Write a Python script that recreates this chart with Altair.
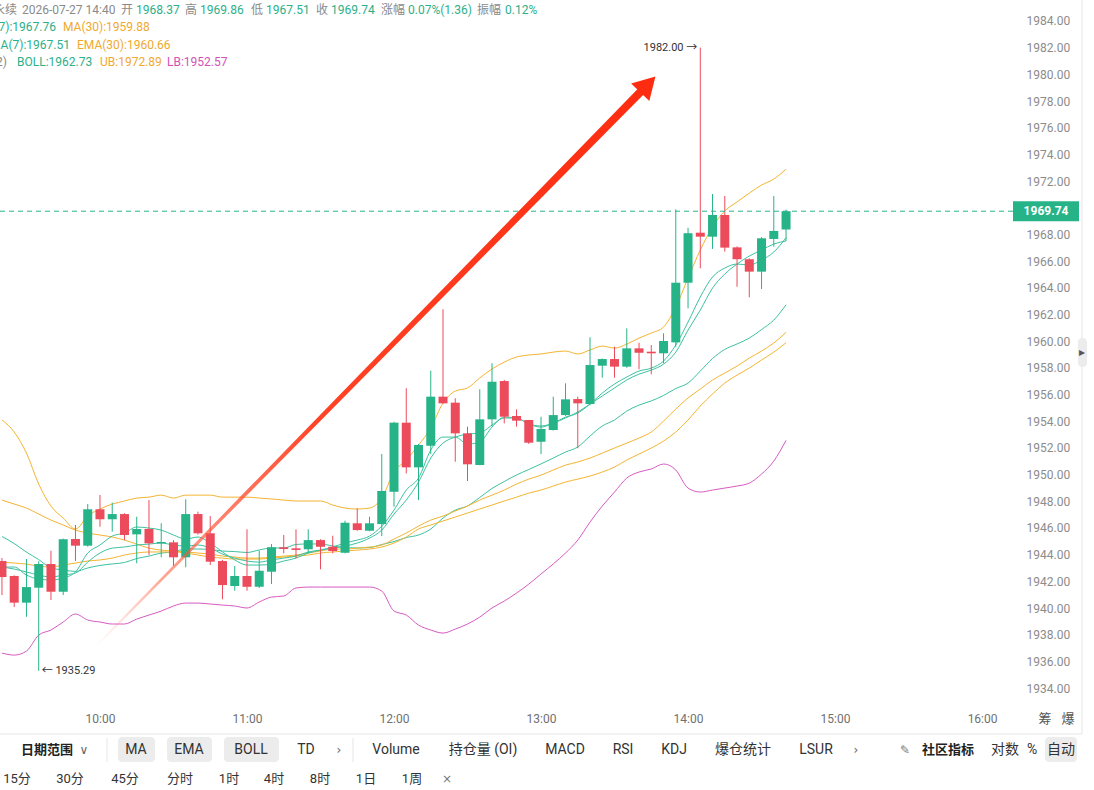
import altair as alt
import pandas as pd

FONT = "Roboto, Noto Sans CJK SC, sans-serif"
CJK = "Noto Sans CJK SC, Roboto, sans-serif"

GREEN = "#27b388"
RED = "#ec4b5c"
TEAL_LINE = "#3cc2a0"
ORANGE_LINE = "#f4b431"
PINK_LINE = "#d85ac2"
TXT_GRAY = "#8a8a8a"
VAL_TEAL = "#2bb089"
VAL_ORANGE = "#f0a92e"
VAL_PINK = "#d452b8"
ARROW_RED = "#fe2c10"

# ---- 5-minute candles, 09:20 to 14:40 (x is minutes after midnight)
opens = [1943.52, 1942.40, 1940.40, 1941.52, 1943.30, 1941.22, 1945.17, 1944.67, 1947.40, 1946.65,
         1947.04, 1945.52, 1945.92, 1944.85, 1944.92, 1943.80, 1947.04, 1945.60, 1943.52, 1941.65,
         1942.40, 1941.59, 1942.72, 1944.55, 1944.47, 1944.40, 1945.09, 1944.59, 1944.14, 1946.35,
         1945.79, 1946.29, 1948.71, 1953.89, 1950.54, 1952.16, 1955.84, 1955.39, 1953.09, 1950.72,
         1954.14, 1957.01, 1954.39, 1954.09, 1952.46, 1953.34, 1954.46, 1955.66, 1955.29, 1958.16,
         1958.66, 1958.09, 1959.46, 1959.21, 1959.09, 1959.91, 1964.38, 1968.13, 1967.83, 1969.46,
         1967.03, 1966.14, 1965.21, 1967.66, 1968.37]
highs = [1943.74, 1942.45, 1943.67, 1943.50, 1944.29, 1945.20, 1946.22, 1947.79, 1948.47, 1947.89,
         1947.10, 1946.84, 1948.09, 1946.35, 1945.09, 1948.15, 1947.22, 1946.89, 1943.60, 1943.15,
         1945.90, 1944.29, 1944.79, 1945.47, 1945.90, 1945.90, 1945.15, 1945.42, 1946.54, 1947.47,
         1946.84, 1951.54, 1953.96, 1956.47, 1952.30, 1957.79, 1962.39, 1955.72, 1953.59, 1956.39,
         1958.34, 1957.10, 1954.89, 1954.10, 1954.34, 1955.84, 1956.84, 1955.84, 1960.29, 1958.70,
         1959.58, 1960.96, 1959.88, 1959.71, 1960.59, 1969.88, 1968.50, 1982.00, 1971.03, 1970.88,
         1967.10, 1966.20, 1967.80, 1970.88, 1969.86]
lows = [1940.97, 1940.07, 1939.34, 1935.29, 1940.60, 1940.97, 1943.52, 1944.60, 1946.09, 1945.72,
        1945.09, 1943.35, 1943.97, 1943.80, 1943.15, 1943.05, 1945.50, 1943.22, 1940.65, 1941.29,
        1941.29, 1941.50, 1941.80, 1944.10, 1943.72, 1944.10, 1942.90, 1944.10, 1944.10, 1945.80,
        1945.75, 1945.39, 1947.59, 1950.09, 1948.09, 1951.54, 1955.30, 1950.96, 1949.52, 1950.70,
        1953.64, 1953.84, 1953.59, 1952.30, 1951.54, 1953.30, 1954.40, 1951.97, 1955.20, 1957.26,
        1957.26, 1958.00, 1957.89, 1957.52, 1958.34, 1959.58, 1962.46, 1965.46, 1966.91, 1966.71,
        1964.08, 1963.29, 1963.91, 1967.08, 1967.51]
closes = [1942.32, 1940.40, 1941.57, 1943.30, 1941.22, 1945.15, 1944.67, 1947.40, 1946.65, 1947.04,
          1945.47, 1945.92, 1944.85, 1944.95, 1943.80, 1947.04, 1945.60, 1943.47, 1941.72, 1942.40,
          1941.59, 1942.79, 1944.55, 1944.42, 1944.35, 1945.09, 1944.59, 1944.27, 1946.39, 1945.84,
          1946.35, 1948.77, 1953.89, 1950.54, 1952.22, 1955.84, 1955.34, 1953.09, 1950.77, 1954.14,
          1956.96, 1954.34, 1954.04, 1952.39, 1953.42, 1954.46, 1955.64, 1955.34, 1958.21, 1958.66,
          1958.09, 1959.46, 1959.13, 1959.09, 1960.01, 1964.38, 1968.09, 1967.83, 1969.46, 1967.01,
          1966.14, 1965.21, 1967.71, 1968.26, 1969.74]

# ---- indicator overlays, one value per candle
ma7 = [1943.07, 1943.07, 1942.47, 1942.17, 1942.10, 1942.25, 1942.70, 1944.12, 1944.72, 1945.39,
       1945.62, 1946.07, 1945.99, 1945.84, 1945.47, 1945.17, 1945.32, 1944.87, 1944.20, 1943.60,
       1943.22, 1943.22, 1943.29, 1943.52, 1943.74, 1944.12, 1944.34, 1944.57, 1944.87, 1945.09,
       1945.39, 1946.14, 1947.34, 1948.84, 1949.74, 1951.84, 1952.81, 1952.81, 1952.29, 1952.44,
       1953.56, 1954.31, 1954.24, 1953.79, 1953.56, 1953.86, 1954.31, 1954.61, 1955.29, 1956.11,
       1956.79, 1957.31, 1957.76, 1957.98, 1958.51, 1959.71, 1961.43, 1963.31, 1964.81, 1965.48,
       1965.78, 1965.71, 1966.08, 1966.68, 1967.76]
ema7 = [1943.07, 1942.92, 1942.70, 1942.47, 1942.32, 1942.47, 1942.62, 1943.44, 1944.12, 1944.49,
        1944.57, 1944.72, 1944.79, 1944.87, 1944.72, 1944.64, 1944.72, 1944.49, 1944.04, 1943.74,
        1943.52, 1943.44, 1943.60, 1943.74, 1943.89, 1944.20, 1944.34, 1944.49, 1944.64, 1944.87,
        1945.24, 1945.84, 1947.04, 1948.09, 1949.44, 1951.24, 1952.36, 1952.81, 1953.04, 1953.11,
        1953.71, 1954.24, 1954.24, 1953.79, 1953.64, 1953.86, 1954.24, 1954.69, 1955.29, 1955.89,
        1956.49, 1957.09, 1957.53, 1957.83, 1958.28, 1959.18, 1960.83, 1962.33, 1963.98, 1965.03,
        1965.78, 1966.38, 1966.83, 1967.28, 1967.51]
ma30 = [1943.44, 1943.37, 1943.29, 1943.14, 1943.07, 1943.22, 1943.37, 1943.52, 1943.60, 1943.74,
        1943.97, 1944.12, 1944.20, 1944.20, 1944.20, 1944.12, 1943.97, 1943.82, 1943.74, 1943.67,
        1943.67, 1943.67, 1943.74, 1943.82, 1943.89, 1943.97, 1944.12, 1944.20, 1944.27, 1944.34,
        1944.42, 1944.57, 1944.87, 1945.32, 1945.92, 1946.22, 1946.52, 1946.82, 1947.12, 1947.42,
        1947.72, 1948.02, 1948.31, 1948.61, 1948.84, 1949.14, 1949.44, 1949.66, 1949.89, 1950.19,
        1950.56, 1951.09, 1951.54, 1951.99, 1952.51, 1953.19, 1954.09, 1955.14, 1956.04, 1956.86,
        1957.46, 1957.98, 1958.59, 1959.18, 1959.88]
ema30 = [1948.09, 1947.79, 1947.49, 1947.04, 1946.59, 1946.22, 1945.84, 1945.62, 1945.47, 1945.32,
         1945.09, 1944.79, 1944.49, 1944.34, 1944.27, 1944.20, 1944.12, 1944.04, 1943.89, 1943.82,
         1943.74, 1943.74, 1943.82, 1943.89, 1943.97, 1944.12, 1944.27, 1944.42, 1944.42, 1944.49,
         1944.57, 1944.72, 1945.17, 1945.62, 1946.14, 1946.59, 1946.89, 1947.27, 1947.64, 1948.09,
         1948.46, 1948.84, 1949.29, 1949.66, 1949.96, 1950.34, 1950.71, 1950.94, 1951.24, 1951.61,
         1951.99, 1952.36, 1952.74, 1953.19, 1954.01, 1954.91, 1955.74, 1956.41, 1957.09, 1957.61,
         1958.13, 1958.73, 1959.26, 1959.86, 1960.66]
boll_mid = [1945.36, 1944.83, 1944.19, 1943.63, 1943.00, 1942.85, 1942.74, 1943.00, 1943.19, 1943.30,
            1943.41, 1943.71, 1943.89, 1944.12, 1944.20, 1944.42, 1944.42, 1944.38, 1944.27, 1944.23,
            1944.16, 1944.35, 1944.50, 1944.50, 1944.76, 1944.80, 1944.80, 1944.65, 1944.53, 1944.50,
            1944.53, 1944.76, 1944.98, 1945.28, 1945.47, 1945.92, 1946.74, 1947.34, 1947.65, 1948.28,
            1948.96, 1949.48, 1949.97, 1950.38, 1950.80, 1951.24, 1951.69, 1952.07, 1952.89, 1953.64,
            1954.09, 1954.76, 1955.21, 1955.52, 1955.93, 1956.45, 1956.86, 1957.76, 1958.70, 1959.38,
            1959.79, 1960.23, 1960.87, 1961.58, 1962.73]
boll_ub = [1954.09, 1953.19, 1951.61, 1949.29, 1947.64, 1946.74, 1945.92, 1946.89, 1947.42, 1947.79,
           1948.02, 1948.24, 1948.31, 1948.46, 1948.24, 1948.46, 1948.46, 1948.46, 1948.31, 1948.31,
           1948.31, 1948.24, 1948.17, 1948.09, 1948.02, 1948.02, 1948.02, 1947.72, 1947.49, 1947.42,
           1947.49, 1948.24, 1950.19, 1951.09, 1952.21, 1953.49, 1955.36, 1956.26, 1956.49, 1957.24,
           1957.91, 1958.43, 1958.81, 1958.96, 1959.04, 1959.18, 1959.26, 1959.04, 1959.34, 1959.63,
           1959.48, 1959.78, 1960.23, 1960.61, 1961.06, 1962.56, 1964.73, 1966.83, 1968.56, 1969.76,
           1970.43, 1971.10, 1971.70, 1972.15, 1972.89]
boll_lb = [1936.62, 1936.47, 1936.77, 1937.97, 1938.35, 1938.95, 1939.55, 1939.10, 1938.95, 1938.80,
           1938.80, 1939.17, 1939.47, 1939.77, 1940.15, 1940.37, 1940.37, 1940.30, 1940.22, 1940.15,
           1940.00, 1940.45, 1940.82, 1940.90, 1941.50, 1941.57, 1941.57, 1941.57, 1941.57, 1941.57,
           1941.57, 1941.27, 1939.77, 1939.47, 1938.72, 1938.35, 1938.12, 1938.42, 1938.80, 1939.32,
           1940.00, 1940.52, 1941.12, 1941.79, 1942.55, 1943.30, 1944.12, 1945.09, 1946.44, 1947.64,
           1948.69, 1949.74, 1950.19, 1950.42, 1950.79, 1950.34, 1948.99, 1948.69, 1948.84, 1948.99,
           1949.14, 1949.36, 1950.04, 1951.01, 1952.57]

# ---- axis ticks
price_ticks = [1934, 1936, 1938, 1940, 1942, 1944, 1946, 1948, 1950, 1952, 1954, 1956, 1958,
               1960, 1962, 1964, 1966, 1968, 1972, 1974, 1976, 1978, 1980, 1982, 1984]
hour_ticks = [600, 660, 720, 780, 840, 900, 960]

# ---- trend arrow (time in minutes, price)
arrow_t = [598.8, 820.6]
arrow_price = [1937.22, 1978.68]
arrow_head_t = [823.6]
arrow_head_price = [1979.24]

first_bar = 560
bar_minutes = 5
times = [first_bar + bar_minutes * i for i in range(len(opens))]

candles = pd.DataFrame({"t": times, "open": opens, "high": highs, "low": lows, "close": closes})

series = {
    "BOLL LB": boll_lb, "BOLL": boll_mid, "BOLL UB": boll_ub,
    "MA(30)": ma30, "EMA(30)": ema30, "EMA(7)": ema7, "MA(7)": ma7,
}
series_colors = [PINK_LINE, TEAL_LINE, ORANGE_LINE, ORANGE_LINE, ORANGE_LINE, TEAL_LINE, TEAL_LINE]
lines = pd.concat(
    [pd.DataFrame({"t": times, "value": vals, "series": name}) for name, vals in series.items()],
    ignore_index=True,
)

W, H = 1010, 705
xs = alt.Scale(domain=[559.2, 971.4], nice=False, zero=False, padding=0)
ys = alt.Scale(domain=[1932.73, 1985.57], nice=False, zero=False, padding=0)

x_axis = alt.Axis(values=hour_ticks, labelExpr="floor(datum.value / 60) + ':00'",
                  ticks=False, tickSize=0, domain=False, grid=False, title=None,
                  labelColor="#707070", labelFontSize=12, labelFont=FONT, labelPadding=8)
y_axis = alt.Axis(orient="right", values=price_ticks, format=".2f",
                  ticks=False, tickSize=0, domain=False, grid=False, title=None,
                  labelColor="#8c8c8c", labelFontSize=12, labelFont=FONT, labelPadding=16)


def X(field="t:Q"):
    return alt.X(field, scale=xs, axis=x_axis)


def Y(field):
    return alt.Y(field, scale=ys, axis=y_axis)


up_down = alt.condition("datum.close >= datum.open", alt.value(GREEN), alt.value(RED))

wicks = alt.Chart(candles).mark_rule(strokeWidth=1).encode(
    x=X(), y=Y("low:Q"), y2="high:Q", color=up_down)
bodies = alt.Chart(candles).mark_bar(size=9).encode(
    x=X(), y=Y("open:Q"), y2="close:Q", color=up_down)

overlays = alt.Chart(lines).mark_line(strokeWidth=1, interpolate="monotone").encode(
    x=X(), y=Y("value:Q"),
    color=alt.Color("series:N", scale=alt.Scale(domain=list(series.keys()), range=series_colors),
                    legend=None),
    detail="series:N",
)

# current price marker
last = pd.DataFrame({"price": [closes[-1]], "label": [f"{closes[-1]:.2f}"]})
price_line = alt.Chart(last).mark_rule(strokeDash=[5, 4], strokeWidth=1, color="#2bb58b").encode(
    y=Y("price:Q"), x=alt.value(0), x2=alt.value(1013))
price_box = alt.Chart(last).mark_rect(color="#27b388", yOffset=-10, y2Offset=10).encode(
    y=Y("price:Q"), y2="price:Q", x=alt.value(1013), x2=alt.value(1079))
price_text = alt.Chart(last).mark_text(color="white", fontWeight="bold", fontSize=12, font=FONT,
                                        baseline="middle", align="center").encode(
    y=Y("price:Q"), x=alt.value(1046), text="label:N")

# session extremes
hi_idx = highs.index(max(highs))
lo_idx = lows.index(min(lows))
hi_lab = pd.DataFrame({"t": [times[hi_idx]], "price": [highs[hi_idx]], "label": [f"{highs[hi_idx]:.2f} →"]})
lo_lab = pd.DataFrame({"t": [times[lo_idx]], "price": [lows[lo_idx]], "label": [f"← {lows[lo_idx]:.2f}"]})
hi_text = alt.Chart(hi_lab).mark_text(align="right", dx=-3, fontSize=11, font=FONT, color="#333333",
                                      baseline="middle").encode(x=X(), y=Y("price:Q"), text="label:N")
lo_text = alt.Chart(lo_lab).mark_text(align="left", dx=3, fontSize=11, font=FONT, color="#333333",
                                      baseline="middle").encode(x=X(), y=Y("price:Q"), text="label:N")

# trend arrow
arrow_df = pd.DataFrame({"t": arrow_t, "price": arrow_price, "w": [0, 1]})
arrow_body = alt.Chart(arrow_df).mark_trail(
    color=alt.Gradient(
        gradient="linear", x1=0, y1=1, x2=1, y2=0,
        stops=[alt.GradientStop(color="rgba(255,140,120,0)", offset=0),
               alt.GradientStop(color="rgba(255,90,60,0.55)", offset=0.12),
               alt.GradientStop(color="#ff4326", offset=0.4),
               alt.GradientStop(color=ARROW_RED, offset=1)])
).encode(x=X(), y=Y("price:Q"),
         size=alt.Size("w:Q", scale=alt.Scale(domain=[0, 1], range=[2, 8]), legend=None))
head_df = pd.DataFrame({"t": arrow_head_t, "price": arrow_head_price})
arrow_head = alt.Chart(head_df).mark_point(shape="triangle-up", size=640, filled=True, opacity=1,
                                           color=ARROW_RED, angle=44, strokeWidth=0).encode(
    x=X(), y=Y("price:Q"))


# ---- page chrome in pixel coordinates
def px_text(rows, **kw):
    df = pd.DataFrame(rows, columns=["px", "py", "text", "color"])
    return alt.Chart(df).mark_text(baseline="middle", **kw).encode(
        x=alt.X("px:Q", scale=None, axis=None),
        y=alt.Y("py:Q", scale=None, axis=None),
        text="text:N",
        color=alt.Color("color:N", scale=None, legend=None),
    )


legend_left = px_text([
    (22, 10, "2026-07-27 14:40", TXT_GRAY),
    (121, 10, "开", TXT_GRAY), (136, 10, "1968.37", VAL_TEAL),
    (185, 10, "高", TXT_GRAY), (200, 10, "1969.86", VAL_TEAL),
    (251, 10, "低", TXT_GRAY), (266, 10, "1967.51", VAL_TEAL),
    (316, 10, "收", TXT_GRAY), (331, 10, "1969.74", VAL_TEAL),
    (381, 10, "涨幅", TXT_GRAY), (408, 10, "0.07%(1.36)", VAL_TEAL),
    (477, 10, "振幅", TXT_GRAY), (505, 10, "0.12%", VAL_TEAL),
    (63, 27, "MA(30):1959.88", VAL_ORANGE),
    (77, 45, "EMA(30):1960.66", VAL_ORANGE),
    (17, 62, "BOLL:1962.73", VAL_TEAL),
    (100, 62, "UB:1972.89", VAL_ORANGE),
    (167, 62, "LB:1952.57", VAL_PINK),
], align="left", fontSize=12, font=FONT)
legend_right = px_text([
    (17, 10, "永续", TXT_GRAY),
    (56, 27, "MA(7):1967.76", VAL_TEAL),
    (70, 45, "EMA(7):1967.51", VAL_TEAL),
    (7, 62, "BOLL(20,2)", TXT_GRAY),
], align="right", fontSize=12, font=FONT)

axis_extra = px_text([(1045, 719, "筹", "#555555"), (1068, 719, "爆", "#555555")],
                     align="center", fontSize=13, font=CJK)

rules_df = pd.DataFrame({
    "px": [0, 107, 353, 1082], "px2": [1082, 107, 353, 1082],
    "py": [734, 738, 738, 0], "py2": [734, 762, 762, 734],
})
chrome_rules = alt.Chart(rules_df).mark_rule(color="#e6e6e6", strokeWidth=1).encode(
    x=alt.X("px:Q", scale=None, axis=None), x2="px2:Q",
    y=alt.Y("py:Q", scale=None, axis=None), y2="py2:Q")

boxes_df = pd.DataFrame({
    "px": [118, 167, 224, 1045, 1078], "px2": [155, 212, 279, 1077, 1087],
    "py": [737, 737, 737, 737, 338], "py2": [762, 762, 762, 762, 367],
})
chrome_boxes = alt.Chart(boxes_df).mark_rect(color="#ececec", cornerRadius=4).encode(
    x=alt.X("px:Q", scale=None, axis=None), x2="px2:Q",
    y=alt.Y("py:Q", scale=None, axis=None), y2="py2:Q")

TB = "#333333"
toolbar = px_text([
    (136, 750, "MA", TB), (189, 750, "EMA", TB), (251, 750, "BOLL", TB), (306, 750, "TD", TB),
    (396, 750, "Volume", TB), (483, 750, "持仓量 (OI)", TB), (565, 750, "MACD", TB),
    (623, 750, "RSI", TB), (674, 750, "KDJ", TB), (743, 750, "爆仓统计", TB), (816, 750, "LSUR", TB),
    (1005, 750, "对数", TB), (1032, 750, "%", TB), (1061, 750, "自动", TB),
], align="center", fontSize=14, font=FONT)
period_row = px_text([
    (17, 779, "15分", TB), (70, 779, "30分", TB), (125, 779, "45分", TB), (180, 779, "分时", TB),
    (229, 779, "1时", TB), (274, 779, "4时", TB), (320, 779, "8时", TB), (366, 779, "1日", TB),
    (412, 779, "1周", TB),
], align="center", fontSize=13, font=FONT)
toolbar_bold = px_text([
    (47, 750, "日期范围", "#222222"), (948, 750, "社区指标", "#222222"),
], align="center", fontSize=13, font=CJK, fontWeight="bold")
toolbar_icons = px_text([
    (84, 750, "∨", "#666666"), (339, 750, "›", "#666666"), (856, 750, "›", "#666666"),
    (905, 750, "✎", "#777777"), (447, 779, "×", "#777777"), (1082, 352, "▸", "#555555"),
], align="center", fontSize=12, font="DejaVu Sans")

chart = alt.layer(
    chrome_rules, chrome_boxes,
    overlays, wicks, bodies, price_line, arrow_body, arrow_head,
    hi_text, lo_text, price_box, price_text,
    legend_left, legend_right, axis_extra, toolbar, period_row, toolbar_bold, toolbar_icons,
).properties(
    width=W, height=H,
    padding={"left": 0, "top": 0, "right": 84, "bottom": 85},
    autosize=alt.AutoSizeParams(type="none"),
    background="white",
).configure_view(stroke=None)

chart.save("out.html", embed_options={"renderer": "svg", "actions": False})
